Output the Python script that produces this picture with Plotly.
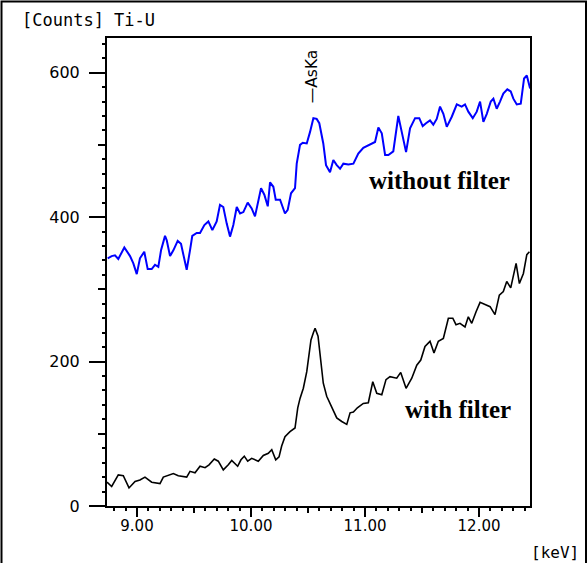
import plotly.graph_objects as go

# ---- data ----
blue_kev = [8.743, 8.778, 8.807, 8.836, 8.889, 8.939, 8.968, 8.998, 9.026, 9.064,
            9.094, 9.129, 9.158, 9.187, 9.211, 9.246, 9.261, 9.290, 9.319, 9.357,
            9.386, 9.436, 9.465, 9.485, 9.524, 9.553, 9.591, 9.626, 9.661, 9.699,
            9.728, 9.757, 9.787, 9.816, 9.845, 9.875, 9.904, 9.933, 9.971, 10.006,
            10.035, 10.064, 10.088, 10.117, 10.147, 10.167, 10.196, 10.217, 10.255, 10.298,
            10.322, 10.351, 10.386, 10.401, 10.430, 10.454, 10.489, 10.518, 10.547, 10.576,
            10.599, 10.634, 10.658, 10.693, 10.722, 10.752, 10.781, 10.810, 10.854, 10.898,
            10.941, 10.985, 11.059, 11.088, 11.117, 11.147, 11.176, 11.205, 11.248, 11.292,
            11.322, 11.360, 11.395, 11.439, 11.476, 11.506, 11.535, 11.570, 11.599, 11.629,
            11.658, 11.687, 11.717, 11.761, 11.805, 11.848, 11.877, 11.906, 11.945, 11.980,
            12.009, 12.038, 12.068, 12.103, 12.126, 12.155, 12.184, 12.213, 12.248, 12.278,
            12.301, 12.331, 12.366, 12.395, 12.419, 12.448]
blue_counts = [343, 346, 347, 342, 358, 346, 336, 321, 343, 352,
               328, 328, 334, 331, 354, 374, 368, 346, 354, 367,
               363, 327, 354, 374, 378, 378, 389, 394, 382, 394,
               417, 414, 391, 373, 389, 414, 405, 407, 420, 412,
               401, 424, 440, 431, 415, 448, 442, 424, 424, 405,
               410, 433, 440, 474, 500, 503, 502, 518, 537, 536,
               530, 502, 472, 462, 479, 472, 467, 474, 473, 474,
               488, 496, 502, 504, 524, 516, 486, 486, 491, 540,
               518, 490, 523, 537, 537, 526, 530, 534, 528, 536,
               553, 543, 525, 539, 556, 553, 556, 546, 537, 546,
               560, 532, 543, 560, 564, 550, 560, 571, 577, 574,
               564, 556, 557, 592, 596, 578]

black_kev = [8.737, 8.778, 8.836, 8.880, 8.930, 8.983, 9.026, 9.070, 9.129, 9.202,
             9.231, 9.275, 9.319, 9.362, 9.436, 9.465, 9.509, 9.553, 9.597, 9.632,
             9.678, 9.713, 9.757, 9.801, 9.831, 9.883, 9.912, 9.941, 9.971, 10.006,
             10.064, 10.108, 10.152, 10.182, 10.217, 10.246, 10.269, 10.298, 10.342, 10.386,
             10.410, 10.430, 10.459, 10.489, 10.509, 10.526, 10.547, 10.562, 10.588, 10.610,
             10.634, 10.664, 10.708, 10.752, 10.796, 10.840, 10.869, 10.898, 10.933, 10.985,
             11.029, 11.068, 11.103, 11.147, 11.184, 11.219, 11.278, 11.313, 11.360, 11.410,
             11.454, 11.489, 11.526, 11.570, 11.605, 11.643, 11.687, 11.731, 11.770, 11.798,
             11.833, 11.877, 11.906, 11.936, 11.974, 12.009, 12.053, 12.097, 12.140, 12.178,
             12.213, 12.243, 12.278, 12.325, 12.354, 12.389, 12.419, 12.442]
black_counts = [33, 27, 43, 42, 25, 34, 36, 40, 33, 31,
                40, 42, 45, 42, 40, 48, 46, 55, 53, 57,
                65, 62, 50, 57, 63, 55, 64, 69, 62, 66,
                62, 70, 73, 78, 64, 68, 83, 96, 103, 108,
                136, 149, 163, 186, 209, 230, 240, 246, 235, 202,
                170, 152, 138, 122, 117, 113, 129, 130, 136, 142,
                143, 172, 156, 154, 175, 179, 177, 185, 163, 177,
                195, 202, 221, 228, 212, 228, 232, 260, 260, 251,
                253, 248, 262, 253, 269, 282, 279, 276, 265, 292,
                297, 311, 302, 336, 308, 322, 348, 352]

x_range = [8.737, 12.447]
y_range = [0, 648]

fig = go.Figure()
fig.add_trace(go.Scatter(x=blue_kev, y=blue_counts, mode="lines",
                         line=dict(color="#0000ff", width=2), showlegend=False))
fig.add_trace(go.Scatter(x=black_kev, y=black_counts, mode="lines",
                         line=dict(color="#000000", width=1.6), showlegend=False))
# helper trace so the medium-tick axes are drawn
fig.add_trace(go.Scatter(x=[x_range[0]], y=[y_range[0]], xaxis="x2", yaxis="y2",
                         mode="markers", marker=dict(opacity=0), hoverinfo="skip",
                         showlegend=False))

fig.update_layout(
    width=588, height=563,
    margin=dict(l=107, r=58, t=38, b=57),
    paper_bgcolor="white", plot_bgcolor="white",
    xaxis=dict(range=x_range, showgrid=False, zeroline=False,
               showline=True, linecolor="black", linewidth=2, mirror=True,
               ticks="outside", ticklen=9, tickwidth=2, tickcolor="black",
               tick0=0, dtick=1, tickformat=".2f",
               tickfont=dict(family="DejaVu Sans", size=15, color="black"),
               ticklabelstandoff=-4,
               minor=dict(ticks="outside", ticklen=3, tickwidth=1.6, tickcolor="black",
                          tick0=0, dtick=0.1, showgrid=False)),
    yaxis=dict(range=y_range, showgrid=False, zeroline=False,
               showline=True, linecolor="black", linewidth=2, mirror=True,
               ticks="outside", ticklen=16, tickwidth=2, tickcolor="black",
               tick0=0, dtick=200,
               tickfont=dict(family="DejaVu Sans", size=16, color="black"),
               ticklabelstandoff=6,
               minor=dict(ticks="outside", ticklen=3, tickwidth=1.6, tickcolor="black",
                          tick0=0, dtick=20, showgrid=False)),
    xaxis2=dict(range=x_range, overlaying="x", anchor="y2", side="bottom",
                showgrid=False, zeroline=False, showline=False, showticklabels=False,
                ticks="outside", ticklen=6, tickwidth=1.8, tickcolor="black",
                tick0=0, dtick=0.5),
    yaxis2=dict(range=y_range, overlaying="y", anchor="x2", side="left",
                showgrid=False, zeroline=False, showline=False, showticklabels=False,
                ticks="outside", ticklen=8, tickwidth=1.8, tickcolor="black",
                tick0=0, dtick=100),
)

# outer frame
fig.add_shape(type="rect", xref="paper", yref="paper",
              x0=-0.2494, x1=1.1324, y0=-0.14, y1=1.078,
              line=dict(color="black", width=2), fillcolor="rgba(0,0,0,0)", layer="above")

# texts
fig.add_annotation(text="[Counts] Ti-U", xref="paper", yref="paper",
                   x=-0.205, y=1.0385, xanchor="left", yanchor="middle", showarrow=False,
                   font=dict(family="DejaVu Sans Mono", size=17, color="black"))
fig.add_annotation(text="[keV]", xref="paper", yref="paper",
                   x=1.058, y=-0.1, xanchor="center", yanchor="middle", showarrow=False,
                   font=dict(family="DejaVu Sans Mono", size=16, color="black"))
fig.add_annotation(text="—AsKa", x=10.535, y=595, xref="x", yref="y",
                   textangle=-90, showarrow=False,
                   font=dict(family="DejaVu Sans", size=15.5, color="black"))
fig.add_annotation(text="<b>without filter</b>", x=11.655, y=451, xref="x", yref="y",
                   showarrow=False,
                   font=dict(family="Liberation Serif", size=25, color="black"))
fig.add_annotation(text="<b>with filter</b>", x=11.815, y=133, xref="x", yref="y",
                   showarrow=False,
                   font=dict(family="Liberation Serif", size=25, color="black"))

fig.write_html("out.html")
